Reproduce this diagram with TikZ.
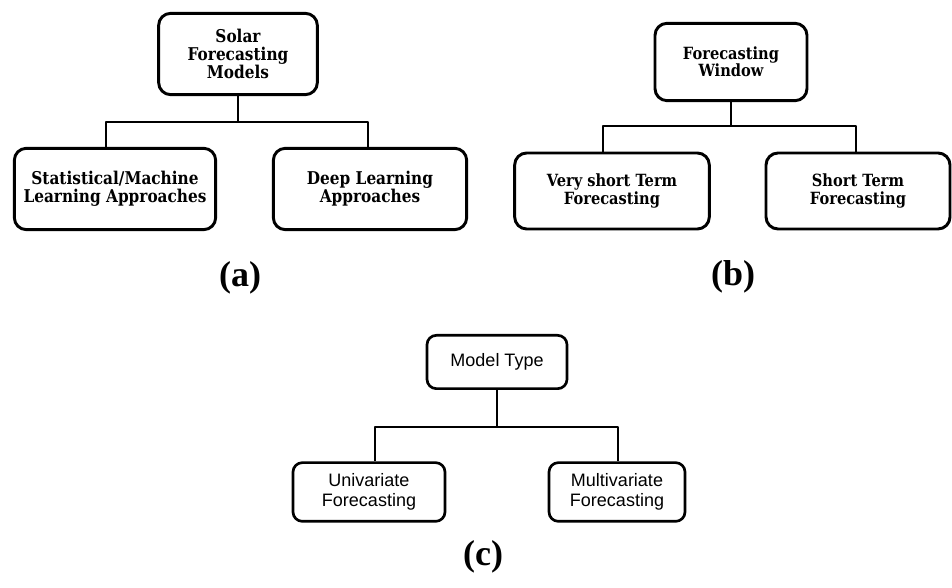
\documentclass[tikz,border=0pt]{standalone}
\usepackage{fontspec}
\usepackage{tikz}
\newfontfamily\boxserif[FakeStretch=0.87]{DejaVu Serif}
\newfontfamily\boxsans{Liberation Sans}
\newfontfamily\labserif{Liberation Serif}

\begin{document}
\begin{tikzpicture}[x=0.75pt,y=0.75pt,line join=round,
  serifbox/.style={draw,line width=2.2pt,rounded corners=9pt,align=center,inner sep=0pt,
    font=\boxserif\bfseries\fontsize{13.2}{13.5}\selectfont},
  sansbox/.style={draw,line width=2pt,rounded corners=7pt,align=center,inner sep=0pt,
    font=\boxsans\fontsize{13.5}{15}\selectfont},
  link/.style={line width=1.5pt},
  panellabel/.style={font=\labserif\bfseries\fontsize{27}{30}\selectfont}]
\useasboundingbox (0,0) rectangle (952,588);
\node[serifbox,minimum width=119pt,minimum height=61pt] (solar) at (238,534) {Solar\\Forecasting\\Models};
\node[serifbox,minimum width=151pt,minimum height=61pt] (stat) at (115,399) {Statistical/Machine\\Learning Approaches};
\node[serifbox,minimum width=145pt,minimum height=61pt] (deep) at (370,399) {Deep Learning\\Approaches};
\coordinate (aL) at (106,466);
\coordinate (aR) at (368,466);
\draw[link] (solar.south) |- (aL) -- (aL |- stat.north);
\draw[link] (solar.south) |- (aR) -- (aR |- deep.north);
\node[panellabel] (capa) at (240,310) {(a)};
\node[serifbox,minimum width=114pt,minimum height=58pt,font=\boxserif\bfseries\fontsize{12.6}{13}\selectfont] (window) at (731,526) {Forecasting\\Window};
\node[serifbox,minimum width=146pt,minimum height=57pt,font=\boxserif\bfseries\fontsize{12.6}{13}\selectfont] (vshort) at (612,397) {Very short Term\\Forecasting};
\node[serifbox,minimum width=138pt,minimum height=57pt,font=\boxserif\bfseries\fontsize{12.6}{13}\selectfont] (short) at (858,397) {Short Term\\Forecasting};
\coordinate (bL) at (603,462);
\coordinate (bR) at (856,462);
\draw[link] (window.south) |- (bL) -- (bL |- vshort.north);
\draw[link] (window.south) |- (bR) -- (bR |- short.north);
\node[panellabel] (capb) at (733,311) {(b)};
\node[sansbox,minimum width=105pt,minimum height=40pt] (model) at (497,226) {Model Type};
\node[sansbox,minimum width=114pt,minimum height=44pt] (uni) at (369,96) {Univariate\\Forecasting};
\node[sansbox,minimum width=102pt,minimum height=44pt] (multi) at (617,96) {Multivariate\\Forecasting};
\coordinate (cL) at (375,161);
\coordinate (cR) at (618,161);
\draw[link] (model.south) |- (cL) -- (cL |- uni.north);
\draw[link] (model.south) |- (cR) -- (cR |- multi.north);
\node[panellabel] (capc) at (483,31) {(c)};
\end{tikzpicture}
\end{document}
